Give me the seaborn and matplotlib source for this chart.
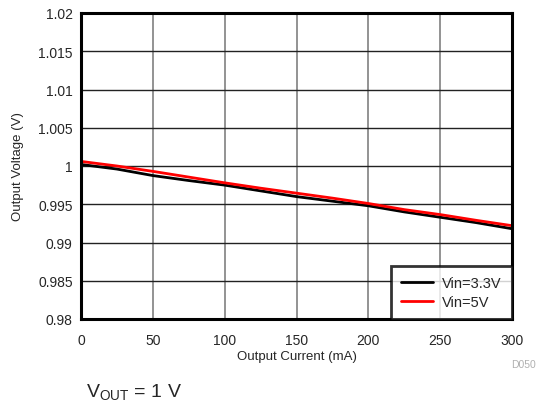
import matplotlib
matplotlib.use("Agg")
import matplotlib.pyplot as plt
import seaborn as sns
import pandas as pd

current = [0, 25, 50, 75, 100, 125, 150, 175, 200, 225, 250, 275, 300]
v_33 = [1.0002, 0.9996, 0.99875, 0.9981, 0.9975, 0.99675, 0.9960, 0.9954, 0.9948, 0.9940, 0.9933, 0.9926, 0.9918]
v_5 = [1.0006, 1.0000, 0.9993, 0.99855, 0.9978, 0.9971, 0.99645, 0.9958, 0.9951, 0.9943, 0.99365, 0.9929, 0.9922]
series_names = ["Vin=3.3V", "Vin=5V"]
xticks = [0, 50, 100, 150, 200, 250, 300]
yticks = [0.98, 0.985, 0.99, 0.995, 1.0, 1.005, 1.01, 1.015, 1.02]
ytick_labels = ["0.98", "0.985", "0.99", "0.995", "1", "1.005", "1.01", "1.015", "1.02"]

df = pd.concat([
    pd.DataFrame({"I": current, "V": v_33, "s": series_names[0]}),
    pd.DataFrame({"I": current, "V": v_5, "s": series_names[1]}),
])

sns.set_style("white")
plt.rcParams['font.family'] = ['Liberation Sans', 'DejaVu Sans']

fig = plt.figure(figsize=(5.37, 4.06), dpi=100)
ax = fig.add_axes([81/537, 1 - 320/406, (512-81)/537, (320-14)/406])

sns.lineplot(data=df, x="I", y="V", hue="s", palette=["black", "red"],
             linewidth=2, ax=ax, legend=True)

ax.set_xlim(0, 300)
ax.set_ylim(0.98, 1.02)
ax.set_xticks(xticks)
ax.set_xticklabels([str(t) for t in xticks], fontsize=10)
ax.set_yticks(yticks)
ax.set_yticklabels(ytick_labels, fontsize=10)
ax.tick_params(axis="x", length=0, pad=10)
ax.tick_params(axis="y", length=0, pad=6)

for x in xticks[1:-1]:
    ax.axvline(x, color="#808080", lw=1.2, zorder=0)
for y in yticks[1:-1]:
    ax.axhline(y, color="#222222", lw=1, zorder=0)

for sp in ax.spines.values():
    sp.set_visible(True)
    sp.set_color("black")
    sp.set_linewidth(2.2)

ax.set_xlabel("Output Current (mA)", fontsize=9.5, labelpad=2.5)
ax.set_ylabel("Output Voltage (V)", fontsize=9.5, labelpad=10)

leg = ax.legend(loc="lower right", fontsize=10.5, frameon=True, fancybox=False,
                borderaxespad=0, handlelength=2.2, handletextpad=0.6,
                borderpad=0.7, labelspacing=0.3)
leg.get_frame().set_edgecolor("black")
leg.get_frame().set_linewidth(2)
leg.set_title(None)

fig.text(511/537, 1 - 365/406, "D050", fontsize=7.5, color="#b0b0b0", va="center", ha="left")
fig.text(86/537, 1 - 393/406, r"V$_{\mathregular{OUT}}$ = 1 V", fontsize=14, va="center", ha="left")

fig.savefig("out.png", dpi=100)
